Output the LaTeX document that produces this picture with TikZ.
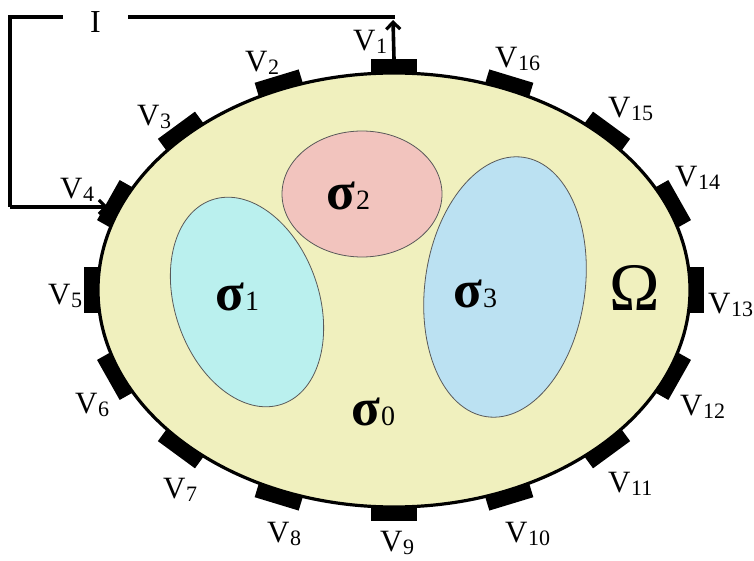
\documentclass[tikz,border=0pt]{standalone}
\usepackage{fontspec}
\setmainfont{Liberation Serif}
\usetikzlibrary{arrows.meta,shapes.geometric}
\definecolor{omegafill}{RGB}{240,240,190}
\definecolor{pinkfill}{RGB}{242,196,190}
\definecolor{cyanfill}{RGB}{186,240,238}
\definecolor{bluefill}{RGB}{187,225,242}
\newcommand\vlab[1]{V\kern0.5pt\raisebox{-3pt}{\fontsize{22}{22}\selectfont #1}}
\newcommand\sig[1]{{\bfseries σ}\kern1pt{\fontsize{28}{28}\selectfont #1}}
\begin{document}
\begin{tikzpicture}[x=1pt,y=1pt,
  currentwire/.style={draw=black, line width=3.6pt},
  tipend/.style={-{Straight Barb[length=7pt,width=14pt,line width=3.2pt]}},
  electrode/.style={rectangle, fill=black, inner sep=0pt, minimum width=15pt, minimum height=46pt},
  region/.style={ellipse, draw=black!65, line width=0.8pt, inner sep=0pt},
  vlabel/.style={anchor=base west, inner sep=0pt, font=\fontsize{31}{31}\selectfont},
  slabel/.style={anchor=base west, inner sep=0pt, font=\fontsize{53}{53}\selectfont}]
\useasboundingbox (0,0) rectangle (754,560);
\fill[white] (0,0) rectangle (754,560);
% domain
\node[ellipse, draw=black, line width=3.2pt, fill=omegafill, inner sep=0pt,
      minimum width=592pt, minimum height=434pt] (omega) at (394,270) {};
% inclusions
\node[region, fill=pinkfill, minimum width=160pt, minimum height=126pt] (s2) at (362,366) {};
\node[region, fill=cyanfill, minimum width=144pt, minimum height=216pt, rotate=19] (s1) at (247,258) {};
\node[region, fill=bluefill, minimum width=160pt, minimum height=262pt, rotate=-8] (s3) at (505,273) {};
% electrodes
\foreach \k in {1,...,16}{
  \pgfmathsetmacro\tpar{90+(\k-1)*22.5}
  \pgfmathsetmacro\nang{atan2(296*sin(\tpar),217*cos(\tpar))}
  \pgfmathsetmacro\ex{394+296*cos(\tpar)+6.5*cos(\nang)}
  \pgfmathsetmacro\ey{270+217*sin(\tpar)+6.5*sin(\nang)}
  \node[electrode, rotate=\nang] (e\k) at (\ex pt,\ey pt) {};
}
% electrode labels
\foreach \k/\lx/\ly in {1/353/51, 2/245/72, 3/137/126, 4/60/199, 5/48/305, 6/75/413,
  7/163/498, 8/267/542, 9/380/551, 10/505/542, 11/608/492, 12/680/415,
  13/708/313, 14/675/187, 15/608/118, 16/495/68}{
  \node[vlabel] (v\k) at (\lx pt,{(560-\ly)*1pt}) {\vlab{\k}};
}
% region labels
\node[slabel] (l1) at (215,250) {\sig{1}};
\node[slabel] (l2) at (326,350) {\sig{2}};
\node[slabel] (l3) at (453,253) {\sig{3}};
\node[slabel] (l0) at (351,135) {\sig{0}};
\node[anchor=base west, inner sep=0pt, font=\fontsize{68}{68}\selectfont] (om) at (609,250) {Ω};
% current source wiring
\node[inner sep=0pt, minimum width=65pt, font=\fontsize{32}{32}\selectfont] (I) at (95.5,538) {I};
\coordinate (tl) at (10,543);
\coordinate (tr) at (393,543);
\coordinate (bl) at (10,353);
\path[currentwire] (I.west |- tr) -- (tl) -- (bl);
\path[currentwire, tipend] (bl) -- (bl -| e4.east);
\path[currentwire] (I.east |- tr) -- ([xshift=1.8pt]tr);
\path[currentwire, tipend] (e1.east) -- ([yshift=-3pt]tr);
\end{tikzpicture}
\end{document}
